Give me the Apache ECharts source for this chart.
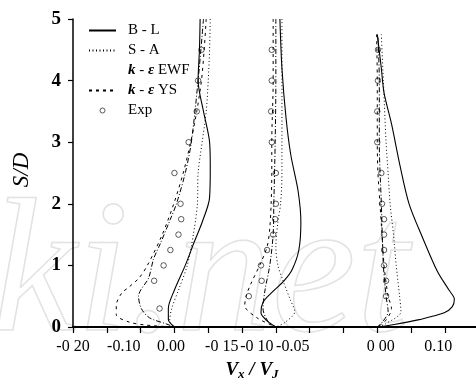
<!DOCTYPE html>
<html>
<head>
<meta charset="utf-8">
<script src="https://cdn.jsdelivr.net/npm/echarts@6/dist/echarts.min.js"></script>
<style>html,body{margin:0;padding:0;background:#fff}#c{width:476px;height:388px}</style>
</head>
<body>
<div id="c"></div>
<script>
// ---- data ----
const seriesNames = ['B-L', 'S-A', 'k-ε EWF', 'k-ε YS', 'Exp'];
const stationZero = [0, 0.15, 0.30];   // axis value of Vx/VJ = 0 for each station
const xTickValues = [-0.15, -0.10, -0.05, 0.00, 0.05, 0.10, 0.15, 0.20, 0.25, 0.30, 0.35, 0.40];
const xTickLabels = ['-0 20', '-0.10', '0.00', '-0 15', '-0 10', '-0.05', '0 00', '0.10'];
const xTickLabelValues = [-0.15, -0.075, -0.005, 0.070, 0.122, 0.175, 0.305, 0.39];
const yTickLabels = ['0', '1', '2', '3', '4', '5'];

// station 1
const S_BL_1 = [5, 4.5, 4, 3.5, 3, 2.6, 2.1, 1.7, 1.4, 1, 0.6, 0.3, 0.12, 0];
const V_BL_1 = [0.038, 0.037, 0.035, 0.043, 0.052, 0.053, 0.052, 0.041, 0.030, 0.016, 0, -0.009, -0.009, 0];
const S_SA_1 = [5, 4.5, 4, 3.5, 3, 2.5, 2, 1.5, 1, 0.6, 0.3, 0.1, 0];
const V_SA_1 = [0.053, 0.052, 0.050, 0.047, 0.041, 0.035, 0.034, 0.028, 0.019, 0.006, -0.004, -0.007, 0];
const S_EWF_1 = [5, 4, 3, 2.5, 2, 1.75, 1.35, 1.1, 0.8, 0.5, 0.3, 0.15, 0.05, 0];
const V_EWF_1 = [0.043, 0.035, 0.025, 0.016, 0.003, -0.006, -0.021, -0.031, -0.038, -0.053, -0.049, -0.037, -0.012, 0];
const S_YS_1 = [5, 4.5, 4, 3.5, 3, 2.5, 2, 1.5, 1, 0.8, 0.65, 0.55, 0.35, 0.2, 0.08, 0.03, 0];
const V_YS_1 = [0.047, 0.044, 0.040, 0.033, 0.024, 0.013, -0.001, -0.018, -0.040, -0.052, -0.067, -0.078, -0.086, -0.086, -0.067, -0.041, 0];
const S_EXP_1 = [4.5, 4.0, 3.5, 3.0, 2.5, 2.0, 1.75, 1.5, 1.25, 1.0, 0.75, 0.3];
const V_EXP_1 = [0.040, 0.035, 0.033, 0.021, 0.000, 0.009, 0.010, 0.006, -0.006, -0.016, -0.030, -0.022];

// station 2
const S_BL_2 = [5, 4.2, 3.4, 2.8, 2.2, 1.7, 1.25, 0.93, 0.75, 0.55, 0.4, 0.23, 0.1, 0];
const V_BL_2 = [0.006, 0.009, 0.015, 0.022, 0.033, 0.037, 0.034, 0.024, 0.012, -0.007, -0.019, -0.022, -0.013, 0];
const S_SA_2 = [5, 4, 3, 2.5, 2, 1.7, 1.3, 1, 0.8, 0.45, 0.25, 0.07, 0];
const V_SA_2 = [0.009, 0.009, 0.009, 0.009, 0.007, 0.003, 0, 0.003, 0.009, 0.021, 0.028, 0.013, 0];
const S_EWF_2 = [5, 4, 3, 2, 1.5, 1, 0.6, 0.3, 0.1, 0];
const V_EWF_2 = [0, 0, -0.001, -0.003, -0.004, -0.009, -0.016, -0.019, -0.012, 0];
const S_YS_2 = [5, 4, 3, 2.5, 2, 1.6, 1.3, 1, 0.7, 0.5, 0.35, 0.15, 0];
const V_YS_2 = [-0.004, -0.004, -0.006, -0.006, -0.007, -0.009, -0.013, -0.024, -0.037, -0.044, -0.046, -0.028, 0];
const S_EXP_2 = [4.5, 4.0, 3.5, 3.0, 2.5, 2.0, 1.75, 1.5, 1.25, 1.0, 0.75, 0.5];
const V_EXP_2 = [-0.006, -0.006, -0.007, -0.006, 0, 0, -0.001, -0.004, -0.013, -0.022, -0.021, -0.040];

// station 3
const S_BL_3 = [4.75, 4.2, 3.8, 3.3, 2.6, 2, 1.45, 0.9, 0.6, 0.45, 0.33, 0.23, 0.12, 0.04, 0];
const V_BL_3 = [0, 0.006, 0.010, 0.021, 0.034, 0.047, 0.067, 0.089, 0.106, 0.114, 0.111, 0.099, 0.062, 0.025, 0];
const S_SA_3 = [4.75, 4, 3, 2.5, 2, 1.5, 1, 0.5, 0.25, 0.05, 0];
const V_SA_3 = [0.006, 0.009, 0.013, 0.016, 0.019, 0.024, 0.028, 0.033, 0.035, 0.012, 0];
const S_EWF_3 = [4.7, 4, 3, 2, 1, 0.5, 0.25, 0.1, 0];
const V_EWF_3 = [0.001, 0.003, 0.003, 0.006, 0.009, 0.013, 0.016, 0.009, 0];
const S_YS_3 = [4.75, 4, 3, 2.5, 2, 1.5, 1, 0.5, 0.3, 0.1, 0];
const V_YS_3 = [-0.001, 0, 0, 0.001, 0.004, 0.007, 0.010, 0.016, 0.021, 0.012, 0];
const S_EXP_3 = [4.5, 4, 3.5, 3, 2.5, 2, 1.75, 1.5, 1.25, 1, 0.75, 0.5];
const V_EXP_3 = [0.001, 0.001, 0, 0, 0.006, 0.007, 0.010, 0.010, 0.010, 0.010, 0.013, 0.013];

// ---- build ----
const FONT = 'Liberation Serif';
const dashes = { 'B-L': 'solid', 'S-A': [1, 2.5], 'k-ε EWF': [5, 2, 1, 2], 'k-ε YS': [3, 4] };
const lines = [
  ['B-L', [S_BL_1, V_BL_1], [S_BL_2, V_BL_2], [S_BL_3, V_BL_3]],
  ['S-A', [S_SA_1, V_SA_1], [S_SA_2, V_SA_2], [S_SA_3, V_SA_3]],
  ['k-ε EWF', [S_EWF_1, V_EWF_1], [S_EWF_2, V_EWF_2], [S_EWF_3, V_EWF_3]],
  ['k-ε YS', [S_YS_1, V_YS_1], [S_YS_2, V_YS_2], [S_YS_3, V_YS_3]]
];
const exps = [[S_EXP_1, V_EXP_1], [S_EXP_2, V_EXP_2], [S_EXP_3, V_EXP_3]];

const series = [];
lines.forEach(function (row) {
  const name = row[0];
  for (let k = 0; k < 3; k++) {
    const S = row[k + 1][0], V = row[k + 1][1];
    series.push({
      type: 'line', name: name, symbol: 'none', smooth: 0.3, animation: false, silent: true,
      itemStyle: { color: '#000' },
      lineStyle: { color: '#000', width: name === 'B-L' ? 1.1 : 1, type: dashes[name] },
      data: S.map(function (s, i) { return [stationZero[k] + V[i], s]; })
    });
  }
});
exps.forEach(function (e, k) {
  series.push({
    type: 'scatter', name: 'Exp', symbol: 'circle', symbolSize: 5.5, animation: false, silent: true,
    itemStyle: { color: '#fff', borderColor: '#000', borderWidth: 0.8 },
    data: e[0].map(function (s, i) { return [stationZero[k] + e[1][i], s]; })
  });
});

const hideSym = { opacity: 0 };
const chart = echarts.init(document.getElementById('c'), null, { renderer: 'canvas' });
chart.setOption({
  backgroundColor: '#fff',
  animation: false,
  grid: { left: 73, right: 0, top: 19, bottom: 61, containLabel: false },
  legend: {
    orient: 'vertical', left: 83, top: 18, itemWidth: 27, itemHeight: 5, itemGap: 5,
    selectedMode: false,
    textStyle: {
      fontFamily: FONT, fontSize: 15, color: '#000', padding: [0, 0, 0, 7],
      rich: { i: { fontFamily: FONT, fontSize: 15, fontStyle: 'italic', fontWeight: 'bold', color: '#000' } }
    },
    formatter: function (n) { return n.indexOf('k-ε') === 0 ? '{i|k} - {i|ε}' + n.slice(3) : n.replace('-', ' - '); },
    data: [
      { name: 'B-L', itemStyle: hideSym },
      { name: 'S-A', itemStyle: hideSym },
      { name: 'k-ε EWF', itemStyle: hideSym, lineStyle: { opacity: 0 } },
      { name: 'k-ε YS', itemStyle: hideSym },
      { name: 'Exp', icon: 'circle', itemStyle: { color: '#fff', borderColor: '#000', borderWidth: 0.8 } }
    ]
  },
  xAxis: {
    type: 'value', min: -0.15, max: 0.446, interval: 0.05,
    splitLine: { show: false },
    axisLine: { onZero: false, lineStyle: { color: '#000', width: 2 } },
    axisTick: { show: true, inside: false, length: 6, customValues: xTickValues, lineStyle: { color: '#000', width: 1.2 } },
    axisLabel: {
      customValues: xTickLabelValues, hideOverlap: false, margin: 12,
      fontFamily: FONT, fontSize: 16, color: '#000',
      formatter: function (v) {
        for (let i = 0; i < xTickLabelValues.length; i++) if (Math.abs(v - xTickLabelValues[i]) < 1e-6) return xTickLabels[i];
        return '';
      }
    }
  },
  yAxis: {
    type: 'value', min: 0, max: 5, interval: 1,
    splitLine: { show: false },
    axisLine: { onZero: false, lineStyle: { color: '#000', width: 1.5 } },
    axisTick: { show: true, inside: false, length: 5, lineStyle: { color: '#000', width: 1.2 } },
    axisLabel: {
      margin: 12, fontFamily: FONT, fontSize: 19, fontWeight: 'bold', color: '#000',
      formatter: function (v) { return yTickLabels[Math.round(v)]; }
    }
  },
  graphic: [
    {
      type: 'text', z: -10, x: -8, y: 375, silent: true,
      style: { text: 'ki.net', fontFamily: FONT, fontStyle: 'italic', fontSize: 190, fill: 'none', stroke: '#e2e2e2', lineWidth: 1.5, verticalAlign: 'bottom' }
    },
    {
      type: 'text', x: 252, y: 370, silent: true,
      style: {
        text: '{v|V}{s|x}{v| / V}{s|J}', align: 'center', verticalAlign: 'middle',
        rich: {
          v: { fontFamily: FONT, fontSize: 19, fontStyle: 'italic', fontWeight: 'bold', fill: '#000' },
          s: { fontFamily: FONT, fontSize: 13, fontStyle: 'italic', fontWeight: 'bold', fill: '#000', padding: [9, 0, 0, 0] }
        }
      }
    },
    {
      type: 'text', x: 22, y: 170, rotation: Math.PI / 2, silent: true,
      style: { text: 'S/D', fontFamily: FONT, fontSize: 23, fontStyle: 'italic', fill: '#000', align: 'center', verticalAlign: 'middle' }
    }
  ],
  series: series
});
</script>
</body>
</html>
